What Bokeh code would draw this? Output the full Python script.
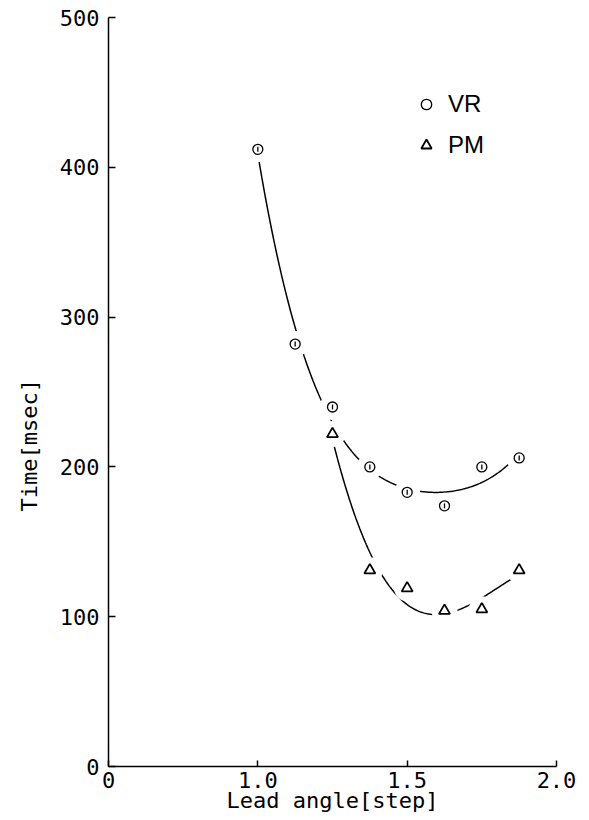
import numpy as np
from bokeh.plotting import figure
from bokeh.models import Range1d, FixedTicker, Legend, LegendItem, Title
from bokeh.embed import file_html
from bokeh.resources import INLINE

# ---- data ----
lead_vr = [1.0, 1.125, 1.25, 1.375, 1.5, 1.625, 1.75, 1.875]
time_vr = [412, 282, 240, 200, 183, 174, 200, 206]
lead_pm = [1.25, 1.375, 1.5, 1.625, 1.75, 1.875]
time_pm = [222, 131, 119, 104, 105, 131]

# axis is broken: "0" is drawn where 0.5 would be
x_ticks = [0.5, 1.0, 1.5, 2.0]
x_tick_labels = ["0", "1.0", "1.5", "2.0"]
y_ticks = [0, 100, 200, 300, 400, 500]

# smooth fitted curves (least squares polynomials of the points)
def fit_curve(xs, ys, deg):
    c = np.polyfit(xs, ys, deg)
    xx = np.linspace(min(xs), max(xs), 200)
    return xx, np.polyval(c, xx)

vr_x, vr_y = fit_curve(lead_vr, time_vr, 4)
pm_x, pm_y = fit_curve(lead_pm, time_pm, 3)

MONO = "DejaVu Sans Mono"
SANS = "Liberation Sans"

p = figure(frame_width=448, frame_height=749,
           min_border_left=108, min_border_right=31,
           min_border_top=17, min_border_bottom=50,
           x_range=Range1d(0.5, 2.0), y_range=Range1d(0, 500),
           output_backend="svg", toolbar_location=None,
           background_fill_color="white", border_fill_color="white")
p.outline_line_color = None
p.xgrid.visible = False
p.ygrid.visible = False

for ax in (p.xaxis[0], p.yaxis[0]):
    ax.axis_line_width = 1.5
    ax.axis_line_color = "black"
    ax.major_tick_line_width = 1.5
    ax.major_tick_line_color = "black"
    ax.major_tick_out = 0
    ax.minor_tick_line_color = None
    ax.major_label_text_font = MONO
    ax.major_label_text_font_size = "22px"
    ax.major_label_text_color = "black"
    ax.axis_label_text_font = MONO
    ax.axis_label_text_font_size = "22px"
    ax.axis_label_text_font_style = "normal"
    ax.axis_label_text_color = "black"

p.xaxis.ticker = FixedTicker(ticks=x_ticks)
p.xaxis.major_label_overrides = {t: l for t, l in zip(x_ticks, x_tick_labels)}
p.xaxis.major_tick_in = 6
p.xaxis.major_label_standoff = 5
p.xaxis.axis_label = "Lead angle[step]"
p.xaxis.axis_label_standoff = -3

p.yaxis.ticker = FixedTicker(ticks=y_ticks)
p.yaxis.major_tick_in = 7
p.yaxis.major_label_standoff = 9

# y title, placed a little below the middle of the axis as in the reference
p.add_layout(Title(text="Time[msec]", align="left", offset=255, standoff=29,
                   text_font=MONO, text_font_size="22px",
                   text_font_style="normal", text_color="black"), "left")

# curves
p.line(vr_x, vr_y, line_color="black", line_width=1.5)
p.line(pm_x, pm_y, line_color="black", line_width=1.5)

# white halos to break the curves around the markers
p.scatter(lead_vr, time_vr, size=26, marker="circle", fill_color="white", line_color=None)
p.scatter(lead_pm, time_pm, size=26, marker="circle", fill_color="white", line_color=None)

# markers
r_vr = p.scatter(lead_vr, time_vr, size=10, marker="circle", fill_color="white",
                 line_color="black", line_width=1.3)
p.scatter(lead_vr, time_vr, size=5, marker="dash", angle=np.pi / 2,
          line_color="black", line_width=1.3)
r_pm = p.scatter(lead_pm, time_pm, size=11, marker="triangle", fill_color="white",
                 line_color="black", line_width=1.8)

legend = Legend(items=[LegendItem(label="VR", renderers=[r_vr]),
                       LegendItem(label="PM", renderers=[r_pm])],
                location=(305, 607), orientation="vertical",
                padding=0, margin=0, spacing=13,
                glyph_width=26, glyph_height=26, label_height=26,
                label_standoff=9,
                label_text_font=SANS, label_text_font_size="24px",
                label_text_color="black",
                border_line_color=None, background_fill_alpha=0)
p.add_layout(legend, "center")

open("out.html", "w").write(file_html(p, INLINE))
